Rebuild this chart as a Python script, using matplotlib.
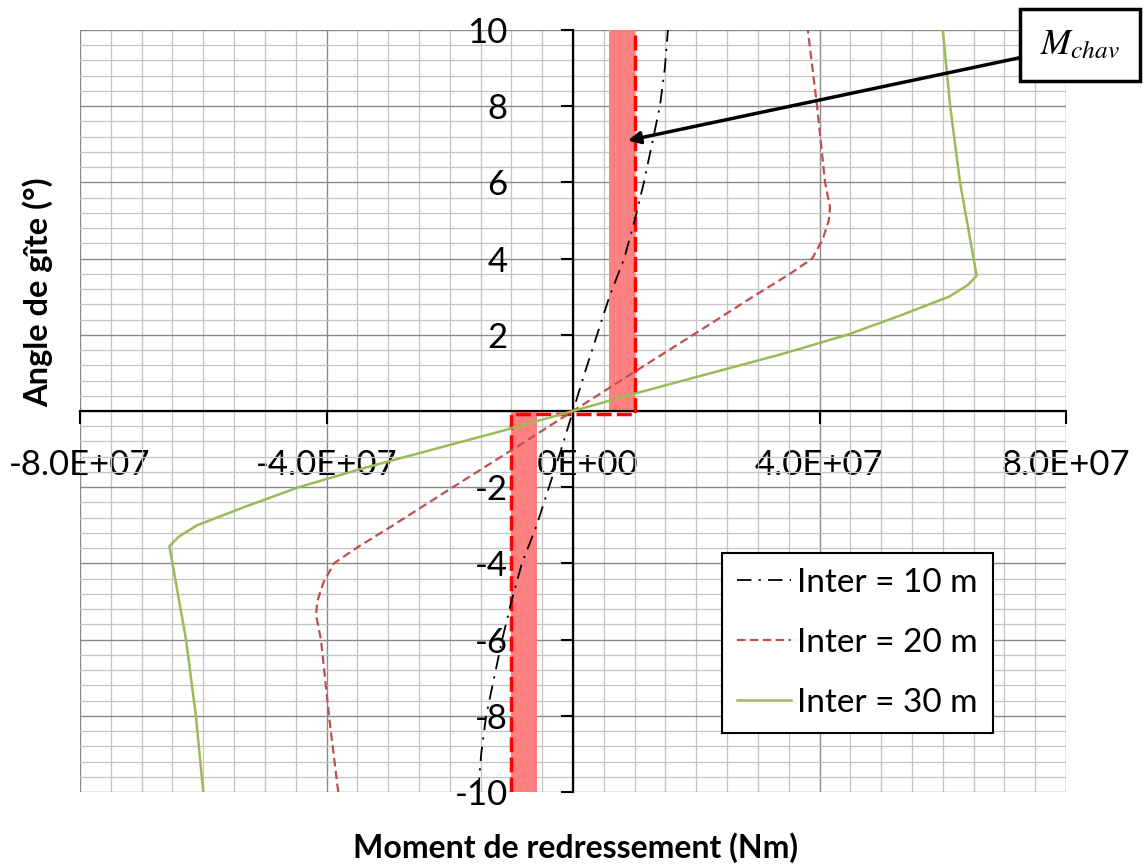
import matplotlib
matplotlib.use("Agg")
import matplotlib.pyplot as plt
from matplotlib.ticker import MultipleLocator

plt.rcParams['font.family'] = ['Lato', 'DejaVu Sans']
plt.rcParams['mathtext.fontset'] = 'stix'

# Righting moment curves (Nm) against heel angle (deg)
angle_10 = [-10, -9, -8, -7, -6, -5, -4, -3, -2, -1, 0, 1, 2, 3, 4, 5, 6, 7, 8, 9, 10]
moment_10 = [-1.54e7, -1.49e7, -1.41e7, -1.28e7, -1.15e7, -1.0e7, -8.3e6, -5.9e6, -3.9e6, -1.9e6, 0,
             1.9e6, 3.9e6, 5.9e6, 8.3e6, 1.0e7, 1.15e7, 1.28e7, 1.41e7, 1.49e7, 1.54e7]

angle_20 = [-10, -8, -6, -5.35, -5, -4.5, -4, -3.6, -3, -2, -1, 0,
            1, 2, 3, 3.6, 4, 4.5, 5, 5.35, 6, 8, 10]
moment_20 = [-3.81e7, -3.96e7, -4.09e7, -4.17e7, -4.15e7, -4.05e7, -3.88e7, -3.52e7, -2.92e7, -1.95e7, -0.97e7, 0,
             0.97e7, 1.95e7, 2.92e7, 3.52e7, 3.88e7, 4.05e7, 4.15e7, 4.17e7, 4.09e7, 3.96e7, 3.81e7]

angle_30 = [-10, -8, -6, -4, -3.55, -3.3, -3, -2.5, -2, -1.5, -1, -0.5, 0,
            0.5, 1, 1.5, 2, 2.5, 3, 3.3, 3.55, 4, 6, 8, 10]
moment_30 = [-6.0e7, -6.12e7, -6.28e7, -6.5e7, -6.55e7, -6.4e7, -6.1e7, -5.3e7, -4.45e7, -3.4e7, -2.25e7, -1.1e7, 0,
             1.1e7, 2.25e7, 3.4e7, 4.45e7, 5.3e7, 6.1e7, 6.4e7, 6.55e7, 6.5e7, 6.28e7, 6.12e7, 6.0e7]

# heeling moment step (M_chav) and the shaded bands beside it
chav_x = [-1.0e7, -1.0e7, 1.0e7, 1.0e7]
chav_y = [-10, -0.08, -0.08, 10]
band_pos = (5.8e6, 1.0e7)
band_neg = (-1.0e7, -5.8e6)

labels = ['Inter = 10 m', 'Inter = 20 m', 'Inter = 30 m']
xticks = [-8e7, -4e7, 0, 4e7, 8e7]
yticks = [-10, -8, -6, -4, -2, 0, 2, 4, 6, 8, 10]

fig = plt.figure(figsize=(11.48, 8.65), dpi=100)
ax = fig.add_axes([0.0697, 0.0844, 0.8589, 0.8809])

ax.fill_betweenx([0, 10], band_pos[0], band_pos[1], color='#FF8080', lw=0, zorder=2)
ax.fill_betweenx([-10, 0], band_neg[0], band_neg[1], color='#FF8080', lw=0, zorder=2)
ax.plot(chav_x, chav_y, color='#FF0000', lw=2.5, dashes=(4.3, 1.5), zorder=3)

ax.plot(moment_10, angle_10, color='black', lw=1.3, dashes=(8, 4, 1.2, 4), label=labels[0], zorder=4)
ax.plot(moment_20, angle_20, color='#C0504D', lw=1.6, dashes=(3.8, 2), label=labels[1], zorder=4)
ax.plot(moment_30, angle_30, color='#9BBB59', lw=1.8, label=labels[2], zorder=4)

ax.set_xlim(-8e7, 8e7)
ax.set_ylim(-10, 10)
ax.set_xticks(xticks)
ax.set_xticklabels(['{:.1E}'.format(v) for v in xticks])
ax.set_yticks(yticks)
ax.set_yticklabels(['' if v == 0 else str(v) for v in yticks])
ax.xaxis.set_minor_locator(MultipleLocator(5e6))
ax.yaxis.set_minor_locator(MultipleLocator(0.4))

ax.grid(which='minor', color='#C4C4C4', lw=0.9)
ax.grid(which='major', color='#8A8A8A', lw=1.0)
ax.set_axisbelow(True)

for s in ['top', 'right']:
    ax.spines[s].set_visible(False)
ax.spines['left'].set_position(('data', 0))
ax.spines['bottom'].set_position(('data', 0))
ax.spines['left'].set_linewidth(1.6)
ax.spines['bottom'].set_linewidth(1.6)
ax.tick_params(which='major', direction='out', length=9, width=1.5, labelsize=25)
ax.tick_params(which='minor', length=0)
ax.tick_params(axis='y', pad=38)
ax.tick_params(axis='x', pad=18)

leg = ax.legend(loc='lower right', bbox_to_anchor=(0.926, 0.0774), fontsize=24, frameon=True,
                fancybox=False, edgecolor='black', framealpha=1, handlelength=1.6, handletextpad=0.2,
                labelspacing=0.9, borderpad=0.45, borderaxespad=0)
leg.get_frame().set_linewidth(1.5)

ax.annotate('$M_{chav}$', xy=(8.9e6, 7.1), xytext=(0.9408, 0.948), textcoords='figure fraction',
            ha='center', va='center', fontsize=26,
            bbox=dict(boxstyle='square,pad=0.55', fc='white', ec='black', lw=2.5),
            arrowprops=dict(arrowstyle='-|>', color='black', lw=2.5, mutation_scale=18, shrinkA=0, shrinkB=0),
            annotation_clip=False, zorder=10)

fig.text(0.033, 0.662, 'Angle de gîte (°)', rotation=90, ha='center', va='center',
         fontsize=23.5, fontweight='bold')
fig.text(0.501, 0.02, 'Moment de redressement (Nm)', ha='center', va='center',
         fontsize=23, fontweight='bold')

fig.savefig('out.png', dpi=100, facecolor='white')
